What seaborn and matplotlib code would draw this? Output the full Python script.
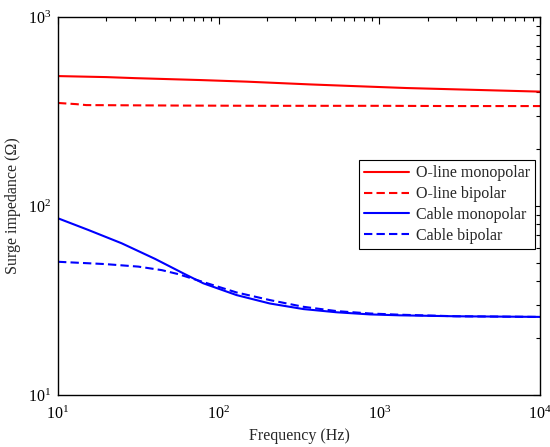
import matplotlib
matplotlib.use("Agg")
import matplotlib.pyplot as plt
import seaborn as sns
import pandas as pd

# Data
oline_mono_f = [10, 20, 30, 50, 77, 150, 370, 700, 1480, 2500, 4230, 10000]
oline_mono_z = [487, 481, 475, 469, 464, 455, 440, 431, 421, 416, 411, 403]

oline_bi_f = [10, 13, 15, 30, 60, 200, 1000, 3000, 10000]
oline_bi_z = [351, 346, 342, 341, 340, 339, 339, 338, 338]

cable_mono_f = [10, 15.5, 24.9, 40.2, 60.3, 80.2, 129, 208, 336, 542, 874, 1343, 3000, 10000]
cable_mono_z = [86.1, 74.6, 63.5, 52.5, 44.0, 39.0, 33.8, 30.5, 28.5, 27.4, 26.7, 26.4, 26.1, 25.9]

cable_bi_f = [10, 19.6, 31.6, 44.2, 56.1, 80.2, 129, 208, 336, 542, 874, 1343, 3000, 10000]
cable_bi_z = [50.7, 49.3, 47.8, 45.8, 43.6, 39.6, 34.9, 31.8, 29.3, 27.8, 27.0, 26.6, 26.1, 25.9]

series_names = ["O-line monopolar", "O-line bipolar", "Cable monopolar", "Cable bipolar"]

sns.set_style("white")
plt.rcParams['font.family'] = ['Liberation Serif', 'DejaVu Serif']
plt.rcParams['mathtext.fontset'] = 'custom'
plt.rcParams['mathtext.rm'] = 'Liberation Serif'
plt.rcParams['mathtext.it'] = 'Liberation Serif:italic'

fig = plt.figure(figsize=(5.5, 4.47), dpi=100)
ax = fig.add_axes([0.1055, 0.1163, 0.8764, 0.8456])

styles = [
    (oline_mono_f, oline_mono_z, "#ff0000", "-"),
    (oline_bi_f, oline_bi_z, "#ff0000", "--"),
    (cable_mono_f, cable_mono_z, "#0000ff", "-"),
    (cable_bi_f, cable_bi_z, "#0000ff", "--"),
]
for name, (f, z, c, ls) in zip(series_names, styles):
    df = pd.DataFrame({"Frequency": f, "Z": z})
    sns.lineplot(data=df, x="Frequency", y="Z", ax=ax, color=c, linestyle=ls,
                 linewidth=1.5, label=name, sort=False, estimator=None)
    if ls == "--":
        ax.lines[-1].set_dashes([4, 2])

ax.set_xscale("log")
ax.set_yscale("log")
ax.set_xlim(10, 1e4)
ax.set_ylim(10, 1e3)
ax.set_xlabel("Frequency (Hz)", fontsize=11.5, labelpad=3)
ax.set_ylabel("Surge impedance (Ω)", fontsize=11.5, labelpad=5)

for s in ax.spines.values():
    s.set_color("black")
    s.set_linewidth(1.0)
    s.set_visible(True)

ax.tick_params(which="both", direction="in", top=True, right=True, colors="black",
               labelsize=11.5)
ax.tick_params(which="major", length=5, width=0.8)
ax.tick_params(which="minor", length=3, width=0.8)
ax.tick_params(axis="x", which="major", pad=8)
ax.tick_params(axis="y", which="major", pad=5)

leg = ax.legend(loc="upper right", bbox_to_anchor=(0.99, 0.622), borderaxespad=0,
                fontsize=11.5, handlelength=2.8, frameon=True, fancybox=False,
                framealpha=1, edgecolor="black", borderpad=0.35, labelspacing=0.3,
                handletextpad=0.4)
leg.get_frame().set_linewidth(0.8)

fig.savefig("out.png", dpi=100)
